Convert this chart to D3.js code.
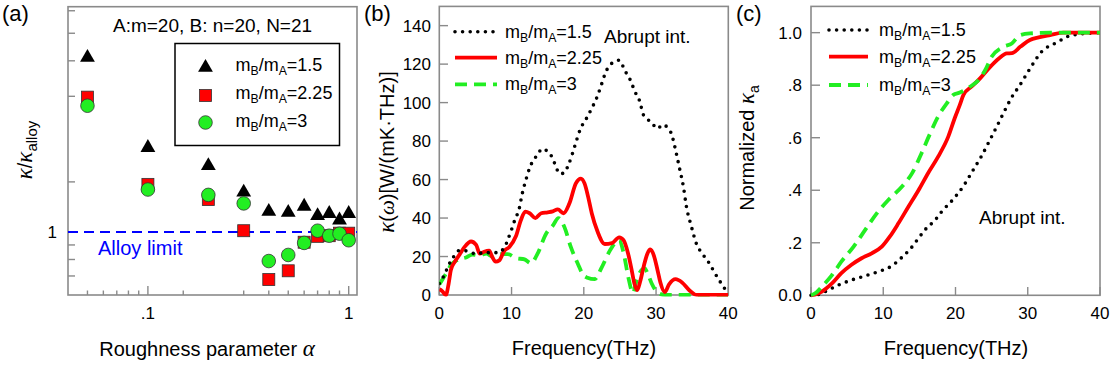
<!DOCTYPE html>
<html><head><meta charset="utf-8">
<script src="https://cdn.jsdelivr.net/npm/d3@7"></script>
<style>
body{margin:0;background:#fff;}
text{font-family:"Liberation Sans",Arial,sans-serif;fill:#000;}
</style></head>
<body>
<svg id="c" width="1115" height="372"></svg>
<script>
// ---------- Panel (a) data ----------
const alphaVals = [0.05,0.1,0.2,0.3,0.4,0.5,0.6,0.7,0.8,0.9,1.0];
const ratio15  = [4.11,1.98,1.71,1.38,1.18,1.17,1.23,1.14,1.16,1.10,1.16];
const ratio225 = [2.98,1.47,1.30,1.01,0.68,0.73,0.92,0.965,0.97,0.99,0.99];
const ratio3   = [2.78,1.41,1.35,1.26,0.79,0.83,0.915,1.01,0.97,0.986,0.935];
const aXTicks = [0.05,0.06,0.07,0.08,0.09,0.1,0.15,0.3,0.4,0.5,0.6,0.7,0.8,0.9,1];
const aXMajor = [0.1,1];
const aYTicks = [0.7,0.8,0.9,1,1.5,3,4,5,6];
const alloyLimit = 1;

// ---------- Panel (b) data ----------
const fB15 = [0,0.5,1,1.5,2,2.7,3.5,5,6.5,8,9,9.5,10,10.5,11,11.5,12,12.5,13.5,14.3,15,15.7,16.2,16.7,17.3,17.8,18.3,18.8,19.5,20.4,21.1,21.9,22.5,23,23.9,24.9,25.7,26.4,27.1,27.8,28.2,28.8,29.5,30.2,30.9,31.6,32.2,32.6,32.9,33.3,33.8,34.2,34.9,35.6,36.3,37.2,37.9,38.6,39.3,40];
const kB15 = [6,9,13,17,20,23,23,21.5,22,22,24.5,29,34,39.5,44,53,60,66,72.5,76,74.5,71,66,63,63.5,67,72,78,86,92,97,103.5,110,115.5,120.5,122,116.5,112,105.5,100,94,91.5,89,86.5,88.5,87,83,77,72,65,56,46,35.5,26.5,22,17.5,13,8.5,4.5,0.5];
const fB225 = [0,0.4,0.9,1.3,1.6,2.1,2.8,3.5,4.4,5.1,5.6,6.2,6.9,7.3,7.8,8.3,9,9.7,10.6,11.3,11.9,12.5,13.3,14.1,15,15.7,16.4,17.2,18,18.9,19.6,20.1,20.6,21.1,21.9,22.9,23.9,24.9,25.5,26.1,26.6,27,27.4,27.8,28.3,28.8,29.2,29.7,30.2,30.6,31.2,31.8,32.7,33.6,34.6,35.6,40];
const kB225 = [3,2,0,6,13,17,21,25,27.8,26,21.5,22.5,23,20,17.3,18,23,25,30.5,39,43.3,42.5,40,42.5,43,43.5,44.5,42.5,47.5,58,60.5,58,51,42.5,33,26.5,27,30,28.5,22,13.5,6,2.5,7,15,21.5,23.7,20.5,13,6.5,1.5,5.5,8.2,6.5,2.5,0,0];
const fB3 = [0,0.5,1,1.6,2.5,3.7,4.6,5.5,6.5,7.4,8.5,9.5,10.6,11.8,12.7,13.6,14.8,15.7,16.5,17.3,18.2,19.2,19.9,20.5,21.5,22.5,23.6,24.9,25.5,26.2,26.8,27.3,28,28.4,28.8,29.4,30.3,31.3,40];
const kB3 = [5.5,8.5,11.5,15.5,18.2,19.5,21,20.5,21.5,20,21.2,21.2,19.2,18.5,16.5,21.5,32,36,40,35.5,25,16,10.5,9,8.2,14.5,23,28.5,22,8.5,1,7.5,13,14,11.5,6,1,0,0];
const bXTicks = [0,10,20,30,40];
const bYTicks = [0,20,40,60,80,100,120,140];

// ---------- Panel (c) data ----------
const fC15 = [0,1,1.94,3.8,5.6,7.5,9.3,11.2,12.6,13.7,14.9,15.8,17.2,18.1,19.5,21.1,22.4,23.6,24.7,25.7,26.7,27.7,29,30.2,31.9,34.2,35.4,36.8,38,40];
const nC15 = [0,0.003,0.014,0.039,0.058,0.074,0.09,0.112,0.145,0.175,0.218,0.25,0.287,0.319,0.36,0.416,0.475,0.53,0.588,0.642,0.697,0.75,0.804,0.858,0.927,0.965,0.984,0.993,0.997,1];
const fC225 = [0,0.5,1.5,2.9,4.2,5.6,7,8.4,9.8,10.9,12.1,13.5,14.9,16.2,17.6,19,19.9,20.6,21.1,22.2,23.4,24.6,26,27.1,27.8,29,30.3,31.5,33.1,34.9,40];
const nC225 = [0,0.002,0.014,0.045,0.084,0.116,0.141,0.16,0.185,0.223,0.274,0.338,0.401,0.465,0.528,0.604,0.675,0.725,0.763,0.794,0.826,0.864,0.902,0.921,0.922,0.947,0.972,0.982,0.991,1.0,1.0];
const fC3 = [0,0.5,1.5,2.9,4.2,5.9,7.5,9.1,10.7,12.6,14,15.3,16.5,17.6,18.8,19.7,20.6,22,23.2,24.1,25,26.6,27.8,28.9,30.3,33.1,40];
const nC3 = [0,0.006,0.033,0.077,0.128,0.185,0.249,0.312,0.363,0.414,0.465,0.541,0.617,0.681,0.731,0.763,0.772,0.794,0.82,0.857,0.908,0.946,0.959,0.99,0.997,1.0,1.0];
const cXTicks = [0,10,20,30,40];
const cYTicks = [0,0.2,0.4,0.6,0.8,1.0];
const cYLabels = ["0.0",".2",".4",".6",".8","1.0"];

const legendRatios = ["1.5","2.25","3"];

// ---------- Styles ----------
const AXC = "#8a8a8a";
const GREEN = "#22ee22";
const RED = "#ff0000";
const svg = d3.select("#c");

function frame(x0,x1,y0,y1){
  svg.append("rect").attr("x",x0).attr("y",y0).attr("width",x1-x0).attr("height",y1-y0)
    .attr("fill","none").attr("stroke",AXC).attr("stroke-width",1.6);
}
function legendText(g,x,y,val,fs){
  const t = g.append("text").attr("x",x).attr("y",y).style("font-size",fs+"px");
  t.append("tspan").text("m");
  t.append("tspan").attr("dy",4).style("font-size",(fs*0.68)+"px").text("B");
  t.append("tspan").attr("dy",-4).text("/m");
  t.append("tspan").attr("dy",4).style("font-size",(fs*0.68)+"px").text("A");
  t.append("tspan").attr("dy",-4).text("="+val);
}
function seriesStyle(sel,i){
  if(i===0) sel.attr("stroke","#000").attr("stroke-width",3.6).attr("stroke-dasharray","0 7.6").attr("stroke-linecap","round");
  else if(i===1) sel.attr("stroke",RED).attr("stroke-width",3.8);
  else sel.attr("stroke",GREEN).attr("stroke-width",3.8).attr("stroke-dasharray","12 7");
  return sel;
}

// =============== Panel (a) ===============
{
  const x = d3.scaleLog().domain([0.04,1.1]).range([68,357]);
  const y = d3.scaleLog().domain([0.6,6.2]).range([295,6.7]);
  frame(68,357,6.7,295);
  svg.append("g").selectAll("line").data(aXTicks).join("line")
    .attr("x1",d=>x(d)).attr("x2",d=>x(d)).attr("y1",295)
    .attr("y2",d=>aXMajor.includes(d)?286:290.5)
    .attr("stroke",AXC).attr("stroke-width",1.4);
  svg.append("g").selectAll("text").data(aXMajor).join("text")
    .attr("x",d=>x(d)).attr("y",319).attr("text-anchor","middle").style("font-size","17px")
    .text(d=>d===1?"1":".1");
  svg.append("g").selectAll("line").data(aYTicks).join("line")
    .attr("x1",68).attr("x2",75).attr("y1",d=>y(d)).attr("y2",d=>y(d))
    .attr("stroke",AXC).attr("stroke-width",1.4);
  svg.append("text").attr("x",57).attr("y",y(1)+6).attr("text-anchor","end").style("font-size","17px").text("1");
  svg.append("line").attr("x1",68).attr("x2",357).attr("y1",y(alloyLimit)).attr("y2",y(alloyLimit))
    .attr("stroke","#0000ff").attr("stroke-width",2).attr("stroke-dasharray","10 6");
  svg.append("text").attr("x",98).attr("y",255).style("font-size","20px").style("fill","#0000ff").text("Alloy limit");
  const tri = d3.symbol().type(d3.symbolTriangle).size(95);
  svg.append("g").selectAll("path").data(alphaVals.map((a,i)=>[a,ratio15[i]])).join("path")
    .attr("d",tri).attr("transform",d=>`translate(${x(d[0])},${y(d[1])})`).attr("fill","#000");
  svg.append("g").selectAll("rect").data(alphaVals.map((a,i)=>[a,ratio225[i]])).join("rect")
    .attr("x",d=>x(d[0])-6).attr("y",d=>y(d[1])-6).attr("width",12).attr("height",12)
    .attr("fill",RED).attr("stroke","#333").attr("stroke-width",0.8);
  svg.append("g").selectAll("circle").data(alphaVals.map((a,i)=>[a,ratio3[i]])).join("circle")
    .attr("cx",d=>x(d[0])).attr("cy",d=>y(d[1])).attr("r",6.8)
    .attr("fill",GREEN).attr("stroke","#333").attr("stroke-width",0.8);
  svg.append("text").attr("x",113).attr("y",32).style("font-size","19px").text("A:m=20, B: n=20, N=21");
  const lg = svg.append("g");
  lg.append("rect").attr("x",175).attr("y",43.5).attr("width",164.5).attr("height",102)
    .attr("fill","#fff").attr("stroke","#000").attr("stroke-width",1.5);
  lg.append("path").attr("d",tri).attr("transform","translate(205.5,67.5)").attr("fill","#000");
  lg.append("rect").attr("x",199.5).attr("y",89.5).attr("width",12).attr("height",12).attr("fill",RED).attr("stroke","#333").attr("stroke-width",0.8);
  lg.append("circle").attr("cx",205.5).attr("cy",122.5).attr("r",6.8).attr("fill",GREEN).attr("stroke","#333").attr("stroke-width",0.8);
  legendRatios.forEach((r,i)=>legendText(lg,235.5,[71,99,127][i],r,18));
  const yl = svg.append("text").attr("transform","translate(32,150) rotate(-90)").attr("text-anchor","middle").style("font-size","20px");
  yl.append("tspan").style("font-family","Liberation Serif").style("font-style","italic").style("font-size","23px").text("κ");
  yl.append("tspan").text("/");
  yl.append("tspan").style("font-family","Liberation Serif").style("font-style","italic").style("font-size","23px").text("κ");
  yl.append("tspan").attr("dy",5).style("font-size","15px").text("alloy");
  const xl = svg.append("text").attr("x",207).attr("y",356).attr("text-anchor","middle").style("font-size","20px");
  xl.append("tspan").text("Roughness parameter ");
  xl.append("tspan").style("font-family","Liberation Serif").style("font-style","italic").style("font-size","23px").text("α");
  svg.append("text").attr("x",2).attr("y",21).style("font-size","22px").text("(a)");
}

// =============== Panel (b) ===============
{
  const x = d3.scaleLinear().domain([0,40]).range([439.3,728.3]);
  const y = d3.scaleLinear().domain([0,150]).range([295,6.4]);
  frame(439.3,728.3,6.4,295);
  svg.append("g").selectAll("line").data(bXTicks).join("line")
    .attr("x1",d=>x(d)).attr("x2",d=>x(d)).attr("y1",295).attr("y2",287)
    .attr("stroke",AXC).attr("stroke-width",1.4);
  svg.append("g").selectAll("text").data(bXTicks).join("text")
    .attr("x",d=>x(d)).attr("y",319).attr("text-anchor","middle").style("font-size","17px").text(d=>d);
  svg.append("g").selectAll("line").data(bYTicks).join("line")
    .attr("x1",439.3).attr("x2",448).attr("y1",d=>y(d)).attr("y2",d=>y(d))
    .attr("stroke",AXC).attr("stroke-width",1.4);
  svg.append("g").selectAll("text").data(bYTicks).join("text")
    .attr("x",431).attr("y",d=>y(d)+6).attr("text-anchor","end").style("font-size","17px").text(d=>d);
  const line = d3.line().x(d=>x(d[0])).y(d=>y(d[1])).curve(d3.curveMonotoneX);
  const sets = [[fB15,kB15],[fB225,kB225],[fB3,kB3]];
  svg.append("clipPath").attr("id","clipB").append("rect").attr("x",439.3).attr("y",6.4).attr("width",289).attr("height",290);
  [2,1,0].forEach(i=>{
    const [f,k]=sets[i];
    seriesStyle(svg.append("path").datum(f.map((v,j)=>[v,k[j]])).attr("d",line).attr("fill","none").attr("clip-path","url(#clipB)"),i);
  });
  [31.7,57.7,84.3].forEach((yy,i)=>{
    seriesStyle(svg.append("line").attr("x1",455).attr("x2",497).attr("y1",yy).attr("y2",yy),i);
    legendText(svg,505,yy+6,legendRatios[i],18);
  });
  svg.append("text").attr("x",604).attr("y",42.5).style("font-size","19px").text("Abrupt int.");
  const yl = svg.append("text").attr("transform","translate(394,152) rotate(-90)").attr("text-anchor","middle").style("font-size","20px");
  yl.append("tspan").style("font-family","Liberation Serif").style("font-style","italic").style("font-size","23px").text("κ");
  yl.append("tspan").text("(");
  yl.append("tspan").style("font-family","Liberation Serif").style("font-style","italic").style("font-size","21px").text("ω");
  yl.append("tspan").text(")[W/(mK·THz)]");
  svg.append("text").attr("x",584).attr("y",355).attr("text-anchor","middle").style("font-size","20px").text("Frequency(THz)");
  svg.append("text").attr("x",364).attr("y",21).style("font-size","22px").text("(b)");
}

// =============== Panel (c) ===============
{
  const x = d3.scaleLinear().domain([0,40]).range([811,1100]);
  const y = d3.scaleLinear().domain([0,1.1]).range([295.3,6.4]);
  frame(811,1100,6.4,295.3);
  svg.append("g").selectAll("line").data(cXTicks).join("line")
    .attr("x1",d=>x(d)).attr("x2",d=>x(d)).attr("y1",295.3).attr("y2",287)
    .attr("stroke",AXC).attr("stroke-width",1.4);
  svg.append("g").selectAll("text").data(cXTicks).join("text")
    .attr("x",d=>x(d)).attr("y",319).attr("text-anchor","middle").style("font-size","17px").text(d=>d);
  svg.append("g").selectAll("line").data(cYTicks).join("line")
    .attr("x1",811).attr("x2",820).attr("y1",d=>y(d)).attr("y2",d=>y(d))
    .attr("stroke",AXC).attr("stroke-width",1.4);
  svg.append("g").selectAll("text").data(cYTicks).join("text")
    .attr("x",802).attr("y",d=>y(d)+6).attr("text-anchor","end").style("font-size","17px").text((d,i)=>cYLabels[i]);
  const line = d3.line().x(d=>x(d[0])).y(d=>y(d[1])).curve(d3.curveMonotoneX);
  const sets = [[fC15,nC15],[fC225,nC225],[fC3,nC3]];
  [0,1,2].forEach(i=>{
    const [f,k]=sets[i];
    seriesStyle(svg.append("path").datum(f.map((v,j)=>[v,k[j]])).attr("d",line).attr("fill","none"),i);
  });
  [30,56.7,85].forEach((yy,i)=>{
    seriesStyle(svg.append("line").attr("x1",829).attr("x2",868).attr("y1",yy).attr("y2",yy),i);
    legendText(svg,879,yy+6,legendRatios[i],18);
  });
  svg.append("text").attr("x",979).attr("y",224).style("font-size","19px").text("Abrupt int.");
  const yl = svg.append("text").attr("transform","translate(754,148) rotate(-90)").attr("text-anchor","middle").style("font-size","20px");
  yl.append("tspan").text("Normalized ");
  yl.append("tspan").style("font-family","Liberation Serif").style("font-style","italic").style("font-size","23px").text("κ");
  yl.append("tspan").attr("dy",5).style("font-size","14px").text("a");
  svg.append("text").attr("x",956).attr("y",355).attr("text-anchor","middle").style("font-size","20px").text("Frequency(THz)");
  svg.append("text").attr("x",736).attr("y",21).style("font-size","22px").text("(c)");
}
</script>
</body></html>
